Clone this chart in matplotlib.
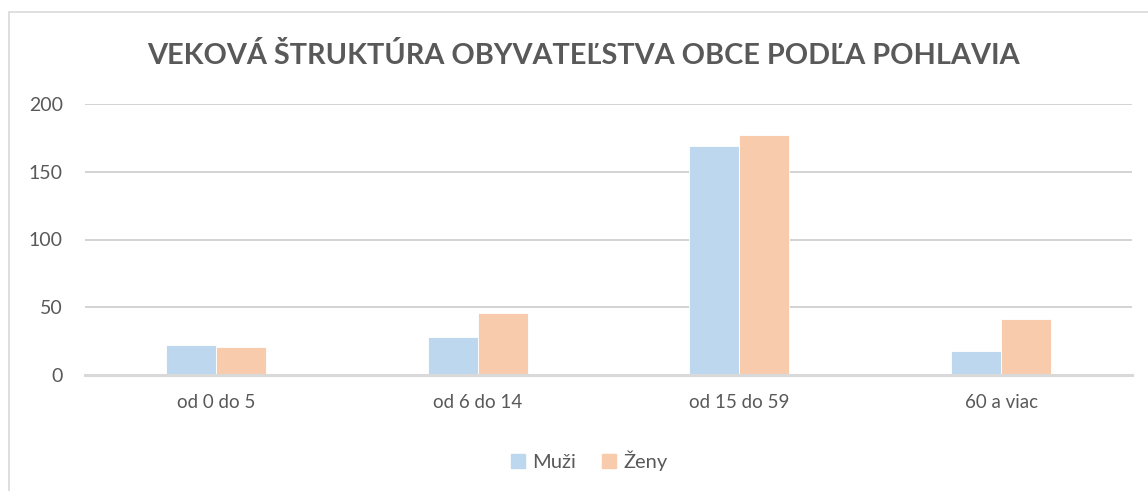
import numpy as np
import matplotlib.pyplot as plt
import matplotlib.patches as mpatches

categories = ["od 0 do 5", "od 6 do 14", "od 15 do 59", "60 a viac"]
muzi       = [22, 28, 169, 18]
zeny       = [21, 46, 177, 41]
y_ticks    = [0, 50, 100, 150, 200]

MUZI_COLOR = "#BDD7EE"
ZENY_COLOR = "#F8CBAD"
TEXT_COLOR = "#595959"
GRID_COLOR = "#D0D0D0"

plt.rcParams["font.family"] = ["Lato", "DejaVu Sans"]

W, H = 1148, 491
fig = plt.figure(figsize=(W / 100, H / 100), dpi=100)
ax = fig.add_axes([85 / W, 1 - 375 / H, (1132 - 85) / W, (375 - 104) / H])

# chart frame (left and top edges visible, rest cut off)
frame = mpatches.Rectangle((9 / W, -0.1), 1.2, 1 - 12 / H + 0.1, transform=fig.transFigure,
                           fill=False, edgecolor="#D9D9D9", linewidth=1.2, zorder=0)
fig.patches.append(frame)

x = np.arange(len(categories))
bw = 50 / 262
ax.bar(x - bw / 2, muzi, width=bw, color=MUZI_COLOR, edgecolor="white", linewidth=0.6, label="Muži", zorder=3)
ax.bar(x + bw / 2, zeny, width=bw, color=ZENY_COLOR, edgecolor="white", linewidth=0.6, label="Ženy", zorder=3)

ax.set_xlim(-0.5, len(categories) - 0.5)
ax.set_ylim(0, 200)
ax.set_yticks(y_ticks)
ax.set_xticks(x)
ax.set_xticklabels(categories)
ax.tick_params(axis="both", length=0, colors=TEXT_COLOR)
ax.tick_params(axis="x", pad=14, labelsize=13.5)
ax.tick_params(axis="y", pad=16, labelsize=14)
ax.yaxis.grid(True, color=GRID_COLOR, linewidth=1.3, zorder=0)
ax.set_axisbelow(True)
for s in ["top", "right", "left"]:
    ax.spines[s].set_visible(False)
ax.spines["bottom"].set_color("#D9D9D9")
ax.spines["bottom"].set_linewidth(2.2)
ax.spines["bottom"].set_zorder(4)

fig.text(583 / W, 1 - 55 / H, "VEKOVÁ ŠTRUKTÚRA OBYVATEĽSTVA OBCE PODĽA POHLAVIA",
         ha="center", va="center", fontsize=20.8, fontweight="bold", color=TEXT_COLOR)

handles = [mpatches.Patch(color=MUZI_COLOR, label="Muži"),
           mpatches.Patch(color=ZENY_COLOR, label="Ženy")]
fig.legend(handles=handles, loc="center", bbox_to_anchor=(589 / W, 1 - 461 / H), ncol=2,
           frameon=False, fontsize=14.5, labelcolor=TEXT_COLOR, handlelength=0.7, handleheight=0.7,
           handletextpad=0.35, columnspacing=1.3)

plt.savefig("out.png", dpi=100)
plt.close()
